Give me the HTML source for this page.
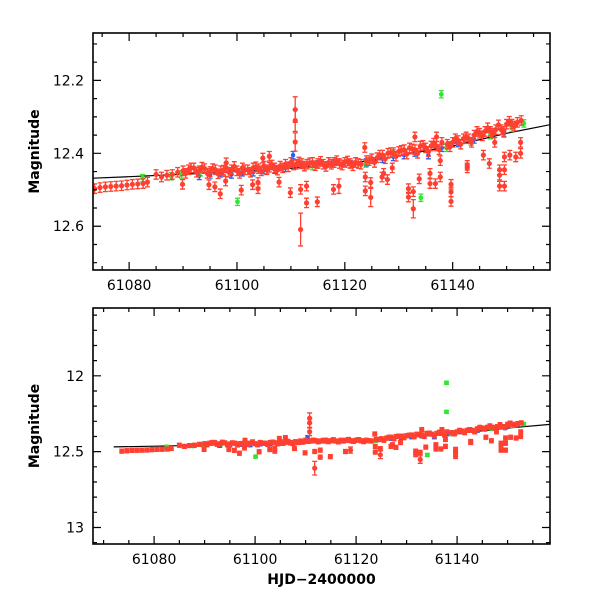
<!DOCTYPE html>
<html><head><meta charset="utf-8"><style>
html,body{margin:0;padding:0;background:#fff}
svg{display:block}
text{font-family:"DejaVu Sans","Liberation Sans",sans-serif;fill:#000}
</style></head><body>
<svg id="chart" width="600" height="600" viewBox="0 0 600 600" xmlns="http://www.w3.org/2000/svg"></svg>
<script>
// ---- data ----
const redT = [61073.6,61074.6,61075.6,61076.6,61077.6,61078.6,61079.6,61080.6,61081.6,61082.6,61083.4,
61085,61086,61087,61088,61089,61090,61091,61092,61093,61094,61095,61096,61097,61098,61099,61100,61101,61102,61103,61104,61105,61106,61107,61108,61109,61110,61111,61112,61113,61114,61115,61116,61117,61118,61119,61120,61121,61122,61123,61124,61125,61126,61127,61128,61129,61130,61131,61132,61133,61134,61135,61136,61137,61138,61139,61140,61141,61142,61143,61144,61145,61146,61147,61148,61149,61150,61151,61152,61152.7,
61090.5,61091.5,61092.5,61093.5,61094.5,61095.5,61096.5,61097.5,61098.5,61099.5,61100.5,61101.5,61102.5,61103.5,61104.5,61105.5,61106.5,61107.5,61108.5,61109.5,61110.5,61111.5,61112.5,61113.5,61114.5,61115.5,61116.5,61117.5,61118.5,61119.5,61120.5,61121.5,61122.5,61124.5,61125.5,61126.5,61127.5,61128.5,61129.5,61130.5,61131.5,61132.5,61133.5,61134.5,61135.5,61136.5,61137.5,61139.5,61140.5,61141.5,61142.5,61143.5,61144.5,61145.5,61146.5,61147.5,61148.5,61149.5,61150.5,61151.5,
61089.9,61094.8,61095.9,61096.9,61097.9,61100.8,61102.9,61103.9,61103.9,61107.8,61109.9,61110.8,61110.8,61110.8,61111.8,61111.8,61112.9,61112.9,61114.9,61117.9,61118.9,61123.8,61123.8,61124.8,61124.8,61126.9,61127.2,61127.9,61128.8,61131.8,61131.8,61132.7,61132.7,61133.8,61135.8,61135.8,61136.8,61137.7,61137.7,61139.7,61139.7,61139.7,61142.7,61142.7,61145.7,61146.8,61147.8,61148.7,61148.7,61148.7,61149.6,61149.6,61149.6,61150.6,61151.7,61152.6,61152.6,
61104.8,61106,61098,61123.7,61133,61137];
const redM = [12.497,12.494,12.492,12.491,12.490,12.489,12.487,12.485,12.484,12.483,12.479,
12.458,12.465,12.460,12.458,12.452,12.448,12.445,12.440,12.448,12.442,12.450,12.445,12.448,12.440,12.445,12.448,12.440,12.445,12.440,12.442,12.435,12.438,12.440,12.435,12.430,12.425,12.430,12.428,12.430,12.425,12.428,12.430,12.425,12.425,12.428,12.425,12.428,12.425,12.430,12.420,12.415,12.412,12.405,12.400,12.398,12.395,12.390,12.385,12.390,12.380,12.385,12.380,12.380,12.370,12.375,12.370,12.365,12.360,12.360,12.350,12.345,12.340,12.340,12.335,12.335,12.320,12.320,12.315,12.310,
12.455,12.440,12.452,12.438,12.455,12.442,12.456,12.446,12.452,12.436,12.455,12.445,12.452,12.437,12.448,12.445,12.432,12.446,12.440,12.437,12.432,12.424,12.435,12.426,12.434,12.422,12.436,12.430,12.420,12.432,12.421,12.434,12.428,12.420,12.425,12.405,12.415,12.398,12.408,12.392,12.402,12.388,12.400,12.378,12.395,12.372,12.390,12.382,12.360,12.375,12.355,12.370,12.340,12.352,12.330,12.345,12.322,12.340,12.312,12.325,
12.485,12.486,12.492,12.511,12.476,12.501,12.486,12.497,12.480,12.479,12.508,12.280,12.310,12.369,12.499,12.609,12.490,12.536,12.533,12.499,12.490,12.465,12.503,12.521,12.480,12.465,12.455,12.472,12.440,12.520,12.497,12.552,12.505,12.470,12.483,12.455,12.483,12.465,12.420,12.506,12.532,12.485,12.433,12.440,12.405,12.428,12.370,12.445,12.460,12.490,12.490,12.445,12.410,12.405,12.410,12.400,12.370,
12.413,12.408,12.426,12.384,12.355,12.355];
const redE = [];
for (let i=0;i<redT.length;i++) redE.push(0.013);
const bigErrIdx = [151,152,153,155,163,171,160];
const bigErrVal = [0.035,0.03,0.025,0.045,0.025,0.025,0.02];
const blueT = [61093,61095,61097,61099,61101,61103,61105,61107,61109,61110.4,61112,61115,61118,61121,61124,61127,61129,61131,61133,61135.5,61138,61141,61144,61147,61149.5];
const blueM = [12.462,12.458,12.455,12.458,12.452,12.452,12.446,12.445,12.440,12.405,12.432,12.430,12.428,12.430,12.425,12.415,12.410,12.405,12.398,12.405,12.385,12.372,12.362,12.350,12.345];
const greenT = [61082.5,61087.8,61089.7,61093.2,61100.1,61105.6,61114,61123.9,61124.2,61129,61134.1,61137.9,61137.9,61138.9,61139.2,61143.4,61147,61151,61153.2];
const greenM = [12.468,12.463,12.458,12.452,12.533,12.445,12.435,12.428,12.422,12.40,12.522,12.238,12.046,12.385,12.378,12.368,12.350,12.330,12.318];
const fitT = [61072,61080,61095,61110,61125,61140,61150,61158.5];
const fitM = [12.469,12.464,12.454,12.441,12.420,12.380,12.345,12.320];
const xTicksTop = [61080,61100,61120,61140];
const yTicksTop = [12.2,12.4,12.6];
const xTicksBot = [61080,61100,61120,61140];
const yTicksBot = [12,12.5,13];

const svg = document.getElementById('chart');
const NS='http://www.w3.org/2000/svg';
function mk(tag, attrs, parent){const e=document.createElementNS(NS,tag);for(const k in attrs)e.setAttribute(k,attrs[k]);(parent||svg).appendChild(e);return e;}

const panels = [
 {name:'top', x0:93,x1:550,y0:33,y1:270, tmin:61073.3,tmax:61158.05, mmin:12.07,mmax:12.72, xt:xTicksTop, yt:yTicksTop, minX:5, minY:0.05, ylab:v=>v.toFixed(1), xlabel:false},
 {name:'bottom', x0:93,x1:550,y0:308,y1:544, tmin:61067.9,tmax:61158.4, mmin:11.553,mmax:13.109, xt:xTicksBot, yt:yTicksBot, minX:5, minY:0.1, ylab:v=>String(v), xlabel:true}
];

panels.forEach((p,pi)=>{
  const X = t => p.x0 + (t-p.tmin)/(p.tmax-p.tmin)*(p.x1-p.x0);
  const Y = m => p.y0 + (m-p.mmin)/(p.mmax-p.mmin)*(p.y1-p.y0);
  const g = mk('g',{});
  
  
  const clipId='clip'+pi;
  const cp = mk('clipPath',{id:clipId},g);
  mk('rect',{x:p.x0,y:p.y0,width:p.x1-p.x0,height:p.y1-p.y0},cp);
  const plot = mk('g',{'clip-path':'url(#'+clipId+')'},g);
  
  
  let d='';
  fitT.forEach((t,i)=>{d+=(i?'L':'M')+X(t).toFixed(1)+' '+Y(fitM[i]).toFixed(1);});
  const fl = mk('path',{d:d,fill:'none',stroke:'#000','stroke-width':1.2},plot);
  
  
  function series(T,M,E,color,nm,r){
    const sg = mk('g',{},plot);
    
    
    T.forEach((t,i)=>{
      const x=X(t), y=Y(M[i]), e=E?E[i]:0.01;
      const ya=Y(M[i]-e), yb=Y(M[i]+e);
      mk('path',{d:`M${x} ${ya}L${x} ${yb}M${x-2.5} ${ya}L${x+2.5} ${ya}M${x-2.5} ${yb}L${x+2.5} ${yb}`,stroke:color,'stroke-width':1.3,fill:'none'},sg);
      const c = mk('circle',{cx:x,cy:y,r:r,fill:color},sg);
      
      
    });
  }
  const E = redE.slice();
  bigErrIdx.forEach((ix,k)=>{E[ix]=bigErrVal[k];});
  series(blueT,blueM,null,'#2060ff','blue-series',2.2);
  series(greenT,greenM,null,'#33e633','green-series',2.4);
  series(redT,redM,E,'#ff4030','red-series',2.6);
  const fr = mk('rect',{x:p.x0,y:p.y0,width:p.x1-p.x0,height:p.y1-p.y0,fill:'none',stroke:'#000','stroke-width':1.6},g);
  
  
  for(let t=Math.ceil(p.tmin/p.minX)*p.minX;t<=p.tmax;t+=p.minX){
    const maj = (Math.round(t)%20===0), L=maj?8:4, x=X(t);
    mk('path',{d:`M${x} ${p.y1}L${x} ${p.y1-L}M${x} ${p.y0}L${x} ${p.y0+L}`,stroke:'#000','stroke-width':1.2},g);
  }
  p.xt.forEach(t=>{
    const tx = mk('text',{x:X(t),y:p.y1+20,'text-anchor':'middle','font-size':14},g);
    tx.textContent=t;
    
    
  });
  const n0=Math.ceil(p.mmin/p.minY-1e-6), n1=Math.floor(p.mmax/p.minY+1e-6);
  for(let n=n0;n<=n1;n++){
    const m=n*p.minY, y=Y(m);
    const maj = p.yt.some(v=>Math.abs(v-m)<1e-6), L=maj?8:4;
    mk('path',{d:`M${p.x0} ${y}L${p.x0+L} ${y}M${p.x1} ${y}L${p.x1-L} ${y}`,stroke:'#000','stroke-width':1.2},g);
  }
  p.yt.forEach(v=>{
    const tx = mk('text',{x:84,y:Y(v)+5,'text-anchor':'end','font-size':14},g);
    tx.textContent=p.ylab(v);
    
    
  });
  const cy=(p.y0+p.y1)/2;
  const yl = mk('text',{x:0,y:0,'text-anchor':'middle','font-size':14,'font-weight':'bold',transform:`translate(39 ${cy}) rotate(-90)`},g);
  yl.textContent='Magnitude';
  
  
  if(p.xlabel){
    const xl = mk('text',{x:(p.x0+p.x1)/2,y:p.y1+40,'text-anchor':'middle','font-size':14,'font-weight':'bold'},g);
    xl.textContent='HJD\u22122400000';
    
    
  }
});
</script>
</body></html>
